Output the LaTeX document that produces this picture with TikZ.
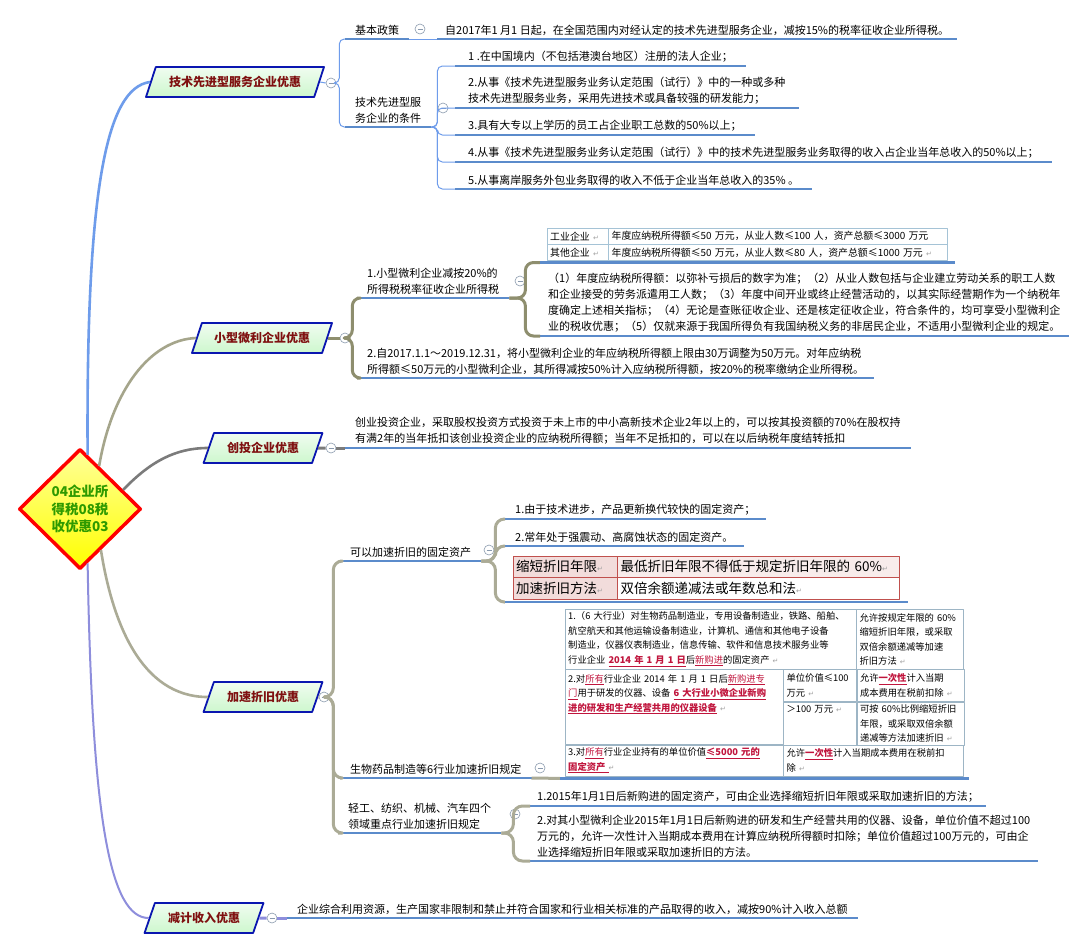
\documentclass[tikz,border=0pt]{standalone}
\usepackage{fontspec}
\setmainfont{Noto Sans CJK SC}
\newfontfamily\symfont{DejaVu Sans}
\usetikzlibrary{shapes.geometric,fit}

\definecolor{ulblue}{HTML}{5B8BCB}
\definecolor{techline}{HTML}{6E9CEB}
\definecolor{oliveline}{HTML}{8E8E6E}
\definecolor{grayline}{HTML}{7B7B7B}
\definecolor{khakiline}{HTML}{ABAB96}
\definecolor{purpline}{HTML}{8E8EDC}
\definecolor{topicred}{HTML}{7F1010}
\definecolor{topicfill}{HTML}{CDF7CD}
\definecolor{topicborder}{HTML}{0A16B0}
\definecolor{rootgreen}{HTML}{2E9A00}
\definecolor{hlred}{HTML}{C0143C}
\definecolor{pinkcell}{HTML}{F2DCDB}
\definecolor{pinkrule}{HTML}{C0504D}
\definecolor{tabrule}{HTML}{A5C3D6}
\definecolor{foldgray}{HTML}{8A9AAE}
\definecolor{retgray}{HTML}{A0A0A0}

\newcommand\retmark{{\symfont\color{retgray}\fontsize{7}{7}\selectfont ↵}}
\newcommand\bodyfont{\fontsize{11}{16}\selectfont}
\newcommand\cellfont{\fontsize{9.3}{14.5}\selectfont}
\newcommand\hlt[1]{\textcolor{hlred}{\bfseries\underline{#1}}}
\newcommand\hlu[1]{\textcolor{hlred}{\underline{#1}}}

\begin{document}
\begin{tikzpicture}[x=1pt, y=-1pt, line join=round]
  \tikzstyle{root} = [diamond, draw=red, line width=3.5pt, top color=yellow!40,
    bottom color=yellow, text=rootgreen, align=center, inner sep=0pt,
    font=\bfseries\fontsize{13.5}{17.5}\selectfont, minimum width=122pt, minimum height=120pt]
  \tikzstyle{topic} = [trapezium, trapezium left angle=64, trapezium right angle=116,
    trapezium stretches=true, draw=topicborder, line width=1.8pt, top color=topicfill!30,
    bottom color=topicfill, text=topicred, font=\bfseries\fontsize{12}{14}\selectfont,
    minimum height=30pt, minimum width=119pt, inner xsep=6pt]
  \tikzstyle{fold} = [circle, draw=foldgray, fill=white, line width=0.6pt, minimum size=10pt,
    inner sep=0pt, path picture={\draw[foldgray, line width=0.6pt]
    ([xshift=2.5pt]path picture bounding box.west) -- ([xshift=-2.5pt]path picture bounding box.east);}]
  \tikzstyle{uline} = [draw=ulblue, line width=2.6pt]
  \tikzstyle{item} = [anchor=south west, align=left, font=\bodyfont, inner xsep=10pt, inner ysep=3.5pt,
    append after command={(\tikzlastnode.south west) edge[uline] (\tikzlastnode.south east)}]
  \tikzstyle{tabline} = [append after command={(\tikzlastnode.south west) edge[uline] (\tikzlastnode.south east)}]
  \tikzstyle{scell} = [draw=tabrule, anchor=north west, align=left, inner xsep=3pt, inner ysep=0pt,
    minimum height=16pt, font=\fontsize{9.9}{14}\selectfont]
  \tikzstyle{pcell} = [draw=pinkrule, anchor=north west, align=left, inner xsep=3pt, inner ysep=0pt,
    font=\fontsize{13.5}{17}\selectfont]
  \tikzstyle{bcell} = [draw=tabrule!80!gray, anchor=north west, align=left, inner xsep=3pt, inner ysep=0pt,
    font=\cellfont]
  \tikzstyle{mainblue} = [draw=techline, line width=2.6pt]
  \tikzstyle{mainolive} = [draw=oliveline!80, line width=2.6pt]
  \tikzstyle{maingray} = [draw=grayline, line width=2.6pt]
  \tikzstyle{mainkhaki} = [draw=khakiline, line width=2.6pt]
  \tikzstyle{mainpurple} = [draw=purpline, line width=2pt]
  \tikzstyle{techthin} = [draw=techline, line width=1pt, rounded corners=5pt]
  \tikzstyle{olivethick} = [draw=oliveline, line width=3pt, rounded corners=8pt]
  \tikzstyle{graythick} = [draw=grayline, line width=3pt]
  \tikzstyle{khakithick} = [draw=khakiline, line width=3pt, rounded corners=9pt]
  \tikzstyle{purplethick} = [draw=purpline, line width=3pt]

  \useasboundingbox (0,0) rectangle (1087,951);
  \fill[white] (0,0) rectangle (1087,951);

  % Place nodes
  \node [root] (root) at (80,509) {04企业所\\得税08税\\收优惠03};
  \node [topic, minimum width=178pt] (tech) at (235,82) {技术先进型服务企业优惠};
  \node [topic, minimum width=140pt] (small) at (262,338) {小型微利企业优惠};
  \node [topic] (venture) at (263,448) {创投企业优惠};
  \node [topic] (accel) at (263,697) {加速折旧优惠};
  \node [topic] (reduce) at (204,918) {减计收入优惠};

  % technology services
  \node [fold] (ftech) at (331,83) {};
  \node [item] (basic) at (345,39) {基本政策};
  \node [fold] (fbasic) at (420,29) {};
  \node [item, inner xsep=8pt] (basictxt) at (437,39) {自2017年1 月1 日起，在全国范围内对经认定的技术先进型服务企业，减按15\%的税率征收企业所得税。};
  \node [item] (cond) at (345,127) {技术先进型服\\务企业的条件};
  \node [fold] (fcond) at (443,108) {};
  \node [item, inner xsep=13pt] (cond1) at (455,66) {1 .在中国境内（不包括港澳台地区）注册的法人企业；};
  \node [item, inner xsep=13pt] (cond2) at (455,108) {2.从事《技术先进型服务业务认定范围（试行）》中的一种或多种\\技术先进型服务业务，采用先进技术或具备较强的研发能力；};
  \node [item, inner xsep=13pt] (cond3) at (455,135) {3.具有大专以上学历的员工占企业职工总数的50\%以上；};
  \node [item, inner xsep=13pt] (cond4) at (455,162) {4.从事《技术先进型服务业务认定范围（试行）》中的技术先进型服务业务取得的收入占企业当年总收入的50\%以上；};
  \node [item, inner xsep=13pt] (cond5) at (455,189) {5.从事离岸服务外包业务取得的收入不低于企业当年总收入的35\% 。};

  % small enterprises
  \node [fold] (fsmall) at (345,338) {};
  \node [item] (small1) at (357,298) {1.小型微利企业减按20\%的\\所得税税率征收企业所得税};
  \node [fold] (fsmall1) at (520,281) {};
  \node [scell, text width=55pt] (s11) at (547,228) {工业企业~\retmark};
  \node [scell, text width=333pt] (s12) at (s11.north east) {年度应纳税所得额≤50~万元，从业人数≤100~人，资产总额≤3000~万元};
  \node [scell, text width=55pt] (s21) at (s11.south west) {其他企业~\retmark};
  \node [scell, text width=333pt] (s22) at (s21.north east) {年度应纳税所得额≤50~万元，从业人数≤80~人，资产总额≤1000~万元~\retmark};
  \node [tabline, fit=(s11)(s22), inner xsep=7pt, inner ysep=1.5pt] (smalltab) {};
  \node [item, inner xsep=8pt] (smallnote) at (540,336) {（1）年度应纳税所得额：以弥补亏损后的数字为准；（2）从业人数包括与企业建立劳动关系的职工人数\\和企业接受的劳务派遣用工人数；（3）年度中间开业或终止经营活动的，以其实际经营期作为一个纳税年\\度确定上述相关指标；（4）无论是查账征收企业、还是核定征收企业，符合条件的，均可享受小型微利企\\业的税收优惠；（5）仅就来源于我国所得负有我国纳税义务的非居民企业，不适用小型微利企业的规定。};
  \node [item] (small2) at (357,378) {2.自2017.1.1～2019.12.31，将小型微利企业的年应纳税所得额上限由30万调整为50万元。对年应纳税\\所得额≤50万元的小型微利企业，其所得减按50\%计入应纳税所得额，按20\%的税率缴纳企业所得税。};

  % venture investment
  \node [fold] (fventure) at (331,448) {};
  \node [item] (ventxt) at (345,448) {创业投资企业，采取股权投资方式投资于未上市的中小高新技术企业2年以上的，可以按其投资额的70\%在股权持\\有满2年的当年抵扣该创业投资企业的应纳税所得额；当年不足抵扣的，可以在以后纳税年度结转抵扣};

  % accelerated depreciation
  \node [fold] (faccel) at (324,697) {};
  \node [item] (dep) at (340,561) {可以加速折旧的固定资产};
  \node [fold] (fdep) at (489,550) {};
  \node [item] (dep1) at (505,519) {1.由于技术进步，产品更新换代较快的固定资产；};
  \node [item] (dep2) at (505,546) {2.常年处于强震动、高腐蚀状态的固定资产。};
  \node [pcell, fill=pinkcell, text width=98pt, minimum height=21pt] (d11) at (513,556) {缩短折旧年限\retmark};
  \node [pcell, fill=pinkcell!55, text width=276pt, minimum height=21pt] (d12) at (d11.north east) {最低折旧年限不得低于规定折旧年限的~60\%\retmark};
  \node [pcell, fill=pinkcell, text width=98pt, minimum height=22pt] (d21) at (d11.south west) {加速折旧方法\retmark};
  \node [pcell, fill=white, text width=276pt, minimum height=22pt] (d22) at (d21.north east) {双倍余额递减法或年数总和法\retmark};
  \node [tabline, fit=(d11)(d22), inner xsep=8pt, inner ysep=2pt] (deptab) {};

  \node [item] (bio) at (340,778) {生物药品制造等6行业加速折旧规定};
  \node [fold] (fbio) at (540,768) {};
  \node [bcell, text width=285pt, minimum height=60pt] (b1) at (565,609) {1.（6~大行业）对生物药品制造业，专用设备制造业，铁路、船舶、\\航空航天和其他运输设备制造业，计算机、通信和其他电子设备\\制造业，仪器仪表制造业，信息传输、软件和信息技术服务业等\\行业企业~\hlt{2014~年~1~月~1~日}后\hlu{新购进}的固定资产~\retmark};
  \node [bcell, text width=101pt, minimum height=60pt] (b2) at (b1.north east) {允许按规定年限的~60\%\\缩短折旧年限，或采取\\双倍余额递减等加速\\折旧方法~\retmark};
  \node [bcell, text width=212pt, minimum height=75pt] (b3) at (b1.south west) {2.对\hlu{所有}行业企业~2014~年~1~月~1~日后\hlu{新购进专}\\\hlu{门}用于研发的仪器、设备~\hlt{6~大行业小微企业新购}\\\hlt{进的研发和生产经营共用的仪器设备}~\retmark\\ \mbox{}\\ \mbox{}};
  \node [bcell, text width=67pt, minimum height=32pt] (b4) at (b3.north east) {单位价值≤100\\万元~\retmark};
  \node [bcell, text width=101pt, minimum height=32pt] (b5) at (b4.north east) {允许\hlt{一次性}计入当期\\成本费用在税前扣除~\retmark};
  \node [bcell, text width=67pt, minimum height=43pt] (b6) at (b4.south west) {＞100~万元~\retmark\\ \mbox{}\\ \mbox{}};
  \node [bcell, text width=101pt, minimum height=43pt] (b7) at (b6.north east) {可按~60\%比例缩短折旧\\年限，或采取双倍余额\\递减等方法加速折旧~\retmark};
  \node [bcell, text width=212pt, minimum height=31pt] (b8) at (b3.south west) {3.对\hlu{所有}行业企业持有的单位价值\hlt{≤5000~元的}\\\hlt{固定资产~}\retmark};
  \node [bcell, text width=174pt, minimum height=31pt] (b9) at (b8.north east) {允许\hlt{一次性}计入当期成本费用在税前扣\\除~\retmark};
  \node [tabline, fit=(b1)(b9), inner xsep=5pt, inner ysep=2pt] (biotab) {};

  \node [item] (auto) at (338,833) {轻工、纺织、机械、汽车四个\\领域重点行业加速折旧规定};
  \node [fold] (fauto) at (515,814) {};
  \node [item, inner xsep=7pt] (auto1) at (530,806) {1.2015年1月1日后新购进的固定资产，可由企业选择缩短折旧年限或采取加速折旧的方法；};
  \node [item, inner xsep=7pt] (auto2) at (530,861) {2.对其小型微利企业2015年1月1日后新购进的研发和生产经营共用的仪器、设备，单位价值不超过100\\万元的，允许一次性计入当期成本费用在计算应纳税所得额时扣除；单位价值超过100万元的，可由企\\业选择缩短折旧年限或采取加速折旧的方法。};

  % reduced income
  \node [fold] (freduce) at (272,918) {};
  \node [item] (redtxt) at (287,918) {企业综合利用资源，生产国家非限制和禁止并符合国家和行业相关标准的产品取得的收入，减按90\%计入收入总额};

  % Draw edges
  \path [mainblue] (root.82) .. controls (86,190) and (106,88) .. (tech.west);
  \path [mainolive] (root.66) .. controls (112,390) and (150,340) .. (small.west);
  \path [maingray] (root.24) .. controls (150,462) and (175,448) .. (venture.west);
  \path [mainkhaki] (root.297) .. controls (112,620) and (140,697) .. (accel.west);
  \path [mainpurple] (root.278) .. controls (92,820) and (110,918) .. (reduce.west);

  \path [techthin] (tech.east) -- (ftech.west);
  \foreach \n in {basic,cond}
    \path [techthin] (ftech.east) -- ++(3,0) |- (\n.south west);
  \path [techthin] (basic.south east) -- (basictxt.south west);
  \foreach \n in {cond1,cond2,cond3,cond4,cond5}
    \path [techthin] (cond.south east) -- ++(6,0) |- (\n.south west);

  \path [olivethick] (small.east) -- (fsmall.west);
  \foreach \n in {small1,small2}
    \path [olivethick] (fsmall.east) -- ++(2,0) |- (\n.south west);
  \foreach \n in {smalltab,smallnote}
    \path [olivethick] (small1.south east) -- ++(16,0) |- (\n.south west);

  \path [graythick] (venture.east) -- (fventure.west);
  \path [graythick] (fventure.east) -- (ventxt.south west);

  \path [khakithick] (accel.east) -- (faccel.west);
  \foreach \n in {dep,bio,auto}
    \path [khakithick] (faccel.east) -- ++(4,0) |- (\n.south west);
  \foreach \n in {dep1,dep2,deptab}
    \path [khakithick] (dep.south east) -- ++(14,0) |- (\n.south west);
  \path [khakithick] (bio.south east) -- (biotab.south west);
  \foreach \n in {auto1,auto2}
    \path [khakithick] (auto.south east) -- ++(12,0) |- (\n.south west);

  \path [purplethick] (reduce.east) -- (freduce.west);
  \path [purplethick] (freduce.east) -- (redtxt.south west);

\end{tikzpicture}
\end{document}
